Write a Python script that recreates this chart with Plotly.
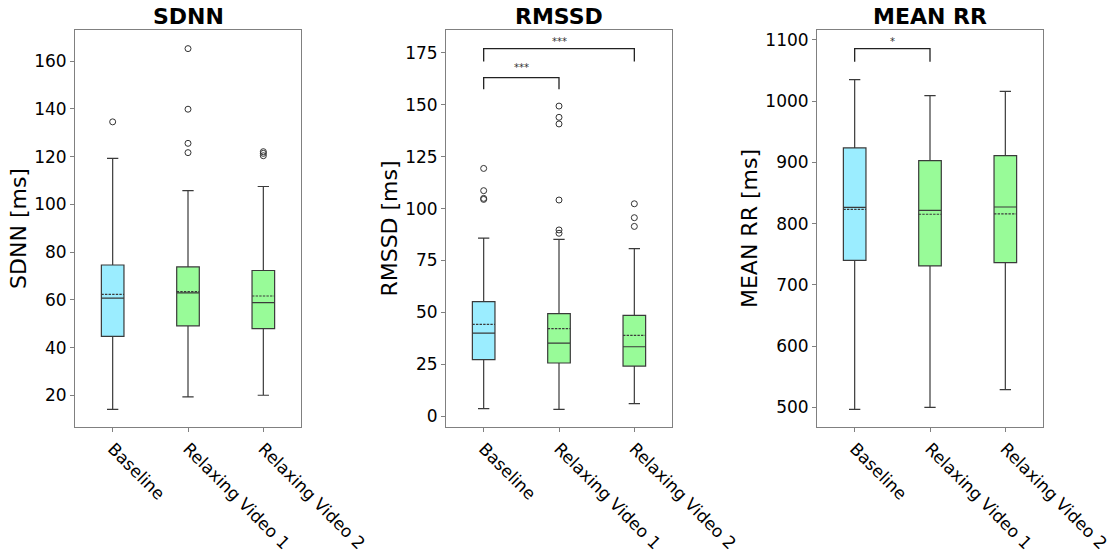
import plotly.graph_objects as go

categories = ["Baseline", "Relaxing Video 1", "Relaxing Video 2"]
box_colors = ["#9BEDFF", "#98FB98", "#98FB98"]

# SDNN
sdnn_lower = [14.1, 19.3, 20.0]
sdnn_q1 = [44.7, 49.1, 47.9]
sdnn_median = [60.7, 62.9, 58.8]
sdnn_mean = [62.3, 63.4, 61.6]
sdnn_q3 = [74.6, 73.8, 72.3]
sdnn_upper = [119.3, 105.8, 107.5]
sdnn_outliers = [[134.6], [165.3, 139.9, 125.6, 121.7], [122.1, 121.4, 120.4]]

# RMSSD
rmssd_lower = [3.7, 3.4, 6.1]
rmssd_q1 = [27.3, 25.7, 24.2]
rmssd_median = [40.1, 35.3, 33.5]
rmssd_mean = [44.3, 42.2, 39.0]
rmssd_q3 = [55.2, 49.4, 48.6]
rmssd_upper = [85.8, 85.2, 80.7]
rmssd_outliers = [[119.3, 108.6, 104.9, 104.4],
                  [149.3, 143.9, 140.7, 104.1, 89.7, 88.1],
                  [102.3, 95.6, 91.4]]

# MEAN RR
rr_lower = [496.7, 500.0, 528.9]
rr_q1 = [740.1, 730.9, 736.3]
rr_median = [826.7, 821.8, 827.2]
rr_mean = [823.4, 815.3, 815.8]
rr_q3 = [923.6, 902.9, 911.1]
rr_upper = [1035.2, 1009.1, 1016.2]
rr_outliers = [[], [], []]

# significance brackets: (from idx, to idx, bar level, leg bottom, label, text level)
rmssd_sig = [(0, 1, 163.0, 157.4, "***", 168.0), (0, 2, 176.9, 170.7, "***", 180.6)]
rr_sig = [(0, 1, 1085.8, 1064.6, "*", 1097.0)]

panels = [
    dict(title="SDNN", ytitle="SDNN [ms]", lower=sdnn_lower, q1=sdnn_q1, med=sdnn_median,
         mean=sdnn_mean, q3=sdnn_q3, upper=sdnn_upper, out=sdnn_outliers, sig=[],
         yrange=[6.7, 173.1], dtick=20, tick0=0),
    dict(title="RMSSD", ytitle="RMSSD [ms]", lower=rmssd_lower, q1=rmssd_q1, med=rmssd_median,
         mean=rmssd_mean, q3=rmssd_q3, upper=rmssd_upper, out=rmssd_outliers, sig=rmssd_sig,
         yrange=[-5.1, 185.9], dtick=25, tick0=0),
    dict(title="MEAN RR", ytitle="MEAN RR [ms]", lower=rr_lower, q1=rr_q1, med=rr_median,
         mean=rr_mean, q3=rr_q3, upper=rr_upper, out=rr_outliers, sig=rr_sig,
         yrange=[467.8, 1116.3], dtick=100, tick0=0),
]

W, H = 1114, 554
xdoms = [(75, 301), (446, 672), (817, 1043)]
ytop, ybot = 30, 427
ydom = [1 - ybot / H, 1 - ytop / H]

FONT = "DejaVu Sans"
fig = go.Figure()
annotations = []
shapes = []
layout = {}

for p_i, p in enumerate(panels):
    sfx = "" if p_i == 0 else str(p_i + 1)
    xa, ya = "x" + sfx, "y" + sfx
    for i, cat in enumerate(categories):
        fig.add_trace(go.Box(
            x=[cat], q1=[p["q1"][i]], median=[p["med"][i]], q3=[p["q3"][i]],
            lowerfence=[p["lower"][i]], upperfence=[p["upper"][i]], mean=[p["mean"][i]],
            boxmean=True, boxpoints=False, width=0.3, whiskerwidth=0.5,
            fillcolor=box_colors[i], line=dict(color="#3a3a3a", width=1.2),
            xaxis=xa, yaxis=ya, showlegend=False, hoverinfo="skip"))
        if p["out"][i]:
            fig.add_trace(go.Scatter(
                x=[cat] * len(p["out"][i]), y=p["out"][i], mode="markers",
                marker=dict(symbol="circle-open", size=6, color="#333",
                            line=dict(width=1)),
                xaxis=xa, yaxis=ya, showlegend=False, hoverinfo="skip"))
    for (a, b, lvl, leg, lab, tl) in p["sig"]:
        shapes.append(dict(type="path", xref=xa, yref=ya,
                           path=f"M {a},{leg} L {a},{lvl} L {b},{lvl} L {b},{leg}",
                           line=dict(color="#222", width=1.3)))
        annotations.append(dict(x=(a + b) / 2, y=tl, xref=xa, yref=ya, text=lab,
                                xanchor="center", yanchor="middle",
                                showarrow=False, font=dict(family=FONT, size=10, color="#333")))
    x0, x1 = xdoms[p_i]
    layout["xaxis" + sfx] = dict(
        domain=[x0 / W, x1 / W], anchor=ya, type="category", automargin=False,
        categoryorder="array", categoryarray=categories, range=[-0.5, 2.5],
        showline=True, mirror=True, linecolor="#808080", linewidth=1,
        ticks="outside", ticklen=4, tickcolor="#808080", tickangle=45,
        tickfont=dict(family=FONT, size=17, color="black"),
        showgrid=False, zeroline=False, fixedrange=True)
    layout["yaxis" + sfx] = dict(
        domain=ydom, anchor=xa, range=p["yrange"], dtick=p["dtick"], tick0=p["tick0"],
        automargin=False,
        showline=True, mirror=True, linecolor="#808080", linewidth=1,
        ticks="outside", ticklen=4, tickcolor="#808080",
        tickfont=dict(family=FONT, size=17, color="black"),
        title=dict(text=p["ytitle"], font=dict(family=FONT, size=22, color="black"), standoff=1),
        showgrid=False, zeroline=False)
    annotations.append(dict(x=(x0 + x1) / 2 / W, y=1 - 17 / H, xref="paper", yref="paper",
                            xanchor="center", yanchor="middle",
                            text=f"<b>{p['title']}</b>", showarrow=False,
                            font=dict(family=FONT, size=22, color="black")))

fig.update_layout(
    width=W, height=H, margin=dict(l=0, r=0, t=0, b=0, autoexpand=False),
    paper_bgcolor="white", plot_bgcolor="white", boxmode="overlay",
    annotations=annotations, shapes=shapes, **layout)

fig.write_html("out.html")
